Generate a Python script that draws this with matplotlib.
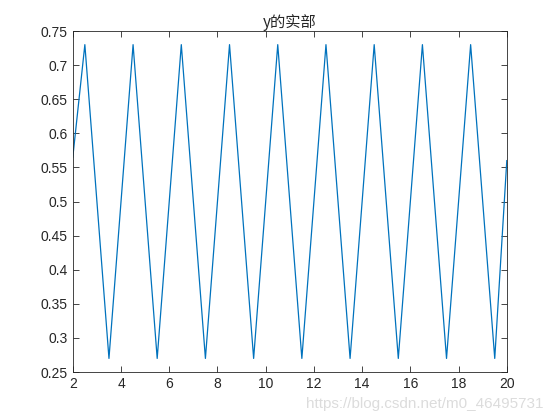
import matplotlib.pyplot as plt

# turning points
x = [2, 2.5, 3.5, 4.5, 5.5, 6.5, 7.5, 8.5, 9.5, 10.5, 11.5,
     12.5, 13.5, 14.5, 15.5, 16.5, 17.5, 18.5, 19.5, 20]
y = [0.565, 0.73, 0.27, 0.73, 0.27, 0.73, 0.27, 0.73, 0.27, 0.73, 0.27,
     0.73, 0.27, 0.73, 0.27, 0.73, 0.27, 0.73, 0.27, 0.56]

xticks = [2, 4, 6, 8, 10, 12, 14, 16, 18, 20]
yticks = [0.25, 0.3, 0.35, 0.4, 0.45, 0.5, 0.55, 0.6, 0.65, 0.7, 0.75]

plt.rcParams['font.family'] = ['Liberation Sans', 'Noto Sans CJK SC', 'DejaVu Sans']

fig = plt.figure(figsize=(5.6, 4.19), dpi=100)
ax = fig.add_axes([0.130, 0.112, 0.775, 0.814])
ax.plot(x, y, color='#0072BD', lw=0.9)

ax.set_xlim(2, 20)
ax.set_ylim(0.25, 0.75)
ax.set_xticks(xticks)
ax.set_yticks(yticks)
ax.set_yticklabels([('%g' % v) for v in yticks])
ax.tick_params(direction='in', top=True, right=True, labelsize=10,
               colors='#262626', length=4, width=0.6)
for s in ax.spines.values():
    s.set_color('#262626')
    s.set_linewidth(0.6)
ax.set_title('y的实部', fontsize=11, color='#262626',
             family=['Noto Sans CJK SC', 'DejaVu Sans'], pad=3)

fig.text(0.97, 0.02, 'https://blog.csdn.net/m0_46495731', ha='right', va='bottom',
         fontsize=11, color='#dcdcdc')

fig.savefig('out.png', dpi=100)
